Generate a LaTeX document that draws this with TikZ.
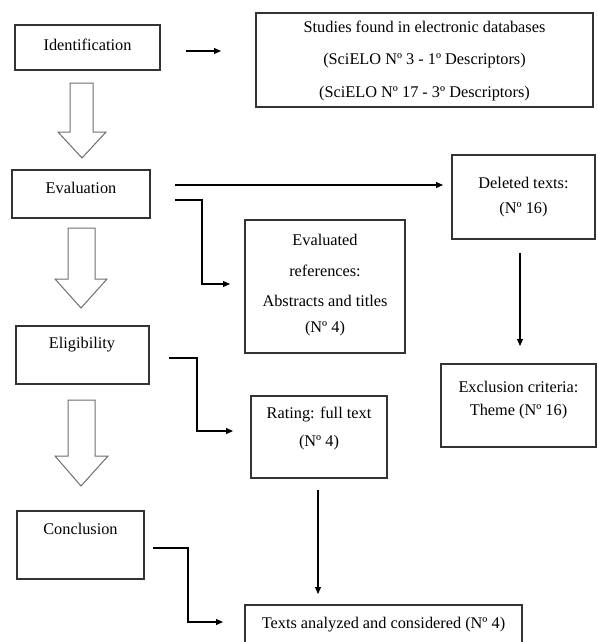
\documentclass[tikz,border=0pt]{standalone}
\usepackage{fontspec}
\setmainfont{Liberation Serif}
\usetikzlibrary{arrows.meta}
\definecolor{lineclr}{HTML}{333333}
\definecolor{hollowclr}{HTML}{6E6E6E}
\tikzset{
  boxst/.style={draw=lineclr, line width=1.1pt, fill=white},
  txt/.style={font=\fontsize{16.3}{19}\selectfont, inner sep=0pt, anchor=center},
  conn/.style={draw=black, line width=1.1pt, -{Triangle[length=7pt,width=6pt]}},
  hollow/.style={draw=hollowclr, line width=1pt, fill=white, line join=miter}
}
\begin{document}
\begin{tikzpicture}[x=1pt,y=-1pt]
\useasboundingbox (0,0) rectangle (597,642);
% boxes
\draw[boxst] (15,25) rectangle (160,70);
\node[txt] (identt) at (87.5,45) {Identification};

\draw[boxst] (256,13) rectangle (593,107);
\node[txt] (st1) at (424.5,27) {Studies found in electronic databases};
\node[txt] (st2) at (424.5,61) {(SciELO Nº 3 - 1º Descriptors)};
\node[txt] (st3) at (424.5,94) {(SciELO Nº 17 - 3º Descriptors)};

\draw[boxst] (12,170) rectangle (150,218);
\node[txt] (evalt) at (81,188) {Evaluation};

\draw[boxst] (452,155) rectangle (595,239);
\node[txt] (del1) at (523.5,183) {Deleted texts:};
\node[txt] (del2) at (523.5,210) {(Nº 16)};

\draw[boxst] (245,220) rectangle (405,353);
\node[txt] (er1) at (325,240) {Evaluated};
\node[txt] (er2) at (325,271) {references:};
\node[txt] (er3) at (325,301) {Abstracts and titles};
\node[txt] (er4) at (325,329) {(Nº 4)};

\draw[boxst] (16,326) rectangle (149,384);
\node[txt] (eligt) at (82,345) {Eligibility};

\draw[boxst] (441,364) rectangle (596,447);
\node[txt] (ex1) at (518.5,387) {Exclusion criteria:};
\node[txt] (ex2) at (518.5,412) {Theme (Nº 16)};

\draw[boxst] (251,396) rectangle (387,478);
\node[txt] (ra1) at (319,415) {Rating: full text};
\node[txt] (ra2) at (319,443) {(Nº 4)};

\draw[boxst] (17,511) rectangle (144,579);
\node[txt] (conct) at (80.5,529) {Conclusion};

\draw[boxst] (245,605) rectangle (522,643);
\node[txt] (tx1) at (383.5,625) {Texts analyzed and considered (Nº 4)};

% hollow arrows
\draw[hollow] (70,83) -- (93,83) -- (93,132) -- (106,132) -- (82,158) -- (58,132) -- (70,132) -- cycle;
\draw[hollow] (68,228) -- (95,228) -- (95,279) -- (107,279) -- (81,308) -- (55,279) -- (68,279) -- cycle;
\draw[hollow] (68,400) -- (95,400) -- (95,456) -- (108,456) -- (81,486) -- (55,456) -- (68,456) -- cycle;

% connectors
\coordinate (a1s) at (186,51); \coordinate (a1e) at (221,51);
\draw[conn] (a1s) -- (a1e);
\coordinate (a2s) at (175,185); \coordinate (a2e) at (443,185);
\draw[conn] (a2s) -- (a2e);
\coordinate (a3s) at (175,200); \coordinate (a3e) at (230,284);
\draw[conn] (a3s) -- (202,200) |- (a3e);
\coordinate (a4s) at (169,358); \coordinate (a4e) at (233,431);
\draw[conn] (a4s) -- (197,358) |- (a4e);
\coordinate (a5s) at (153,548); \coordinate (a5e) at (223,622);
\draw[conn] (a5s) -- (188,548) |- (a5e);
\coordinate (a6s) at (520,253); \coordinate (a6e) at (520,346);
\draw[conn] (a6s) -- (a6e);
\coordinate (a7s) at (318,490); \coordinate (a7e) at (318,594);
\draw[conn] (a7s) -- (a7e);
\end{tikzpicture}
\end{document}
